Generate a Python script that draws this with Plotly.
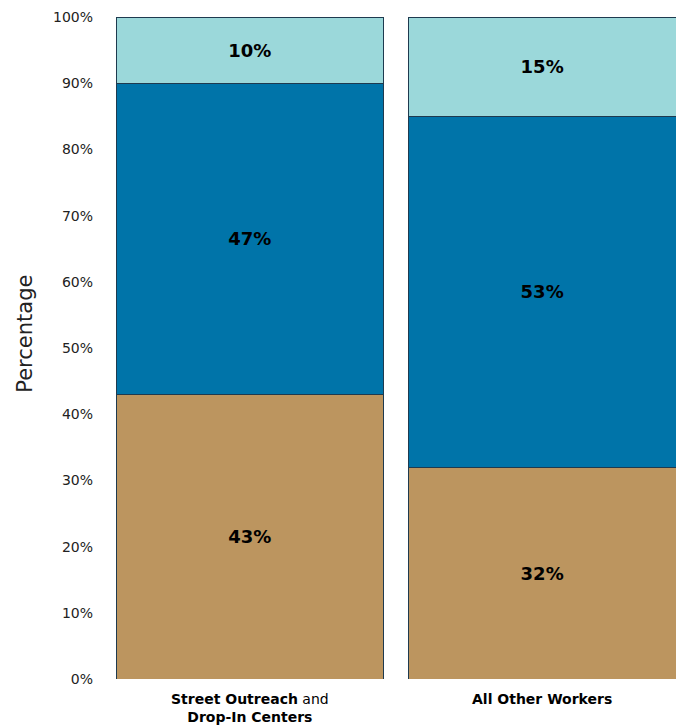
import plotly.graph_objects as go

categories = ["<b>Street Outreach</b> and<br><b>Drop-In Centers</b>", "<b>All Other Workers</b>"]
series_names = ["Bottom", "Middle", "Top"]
bottom_vals = [43, 32]
middle_vals = [47, 53]
top_vals = [10, 15]
colors = ["#BC955F", "#0074A9", "#9BD8DA"]
tick_vals = [0, 10, 20, 30, 40, 50, 60, 70, 80, 90, 100]
tick_text = [f"{v}%" for v in tick_vals]

FONT = "DejaVu Sans"

fig = go.Figure()
for name, vals, col in zip(series_names, [bottom_vals, middle_vals, top_vals], colors):
    fig.add_trace(go.Bar(
        x=categories, y=vals, name=name,
        marker=dict(color=col, line=dict(color="#1E3A4F", width=1)),
        text=[f"<b>{v}%</b>" for v in vals],
        textposition="inside", insidetextanchor="middle",
        textfont=dict(family=FONT, size=18, color="black"),
        width=0.916,
    ))

fig.update_layout(
    barmode="stack",
    width=683, height=728,
    margin=dict(l=116, r=7, t=17, b=49, autoexpand=False),
    paper_bgcolor="white", plot_bgcolor="white",
    showlegend=False,
    font=dict(family=FONT, color="#222222"),
    uniformtext=dict(mode=False),
)
fig.add_annotation(text="Percentage", xref="paper", yref="paper", x=-0.162, y=0.522,
                   xanchor="center", yanchor="middle", textangle=-90, showarrow=False,
                   font=dict(family=FONT, size=21, color="#222222"))
fig.update_xaxes(range=[-0.458, 1.458], showgrid=False, showline=False, zeroline=False,
                 tickfont=dict(family=FONT, size=14, color="black"), ticks="",
                 ticklabelstandoff=10, automargin=False)
fig.update_yaxes(range=[0, 100], tickvals=tick_vals, ticktext=tick_text, showgrid=False,
                 showline=False, zeroline=False, tickfont=dict(family=FONT, size=14, color="#222222"),
                 ticklabelstandoff=22, automargin=False)

fig.write_html("out.html")
